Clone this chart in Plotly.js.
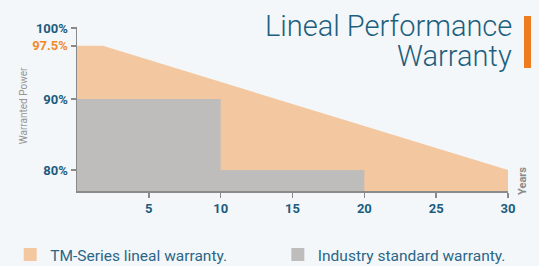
<!DOCTYPE html>
<html>
<head>
<meta charset="utf-8">
<script src="https://cdn.plot.ly/plotly-3.0.1.min.js"></script>
<style>
html,body{margin:0;padding:0;background:#f4f7f9;}
#chart{width:539px;height:266px;}
</style>
</head>
<body>
<div id="chart"></div>
<script>
// Data
const tmYears = [0, 1.8, 30];
const tmPower = [97.5, 97.5, 80];
const industryYears = [0, 10, 20];
const industryPower = [90, 80, 80];
const xTicks = [5, 10, 15, 20, 25, 30];
const yTicks = [80, 90, 97.5, 100];
const yTickLabels = ['80%', '90%', '<span style="color:#f08a2a">97.5%</span>', '100%'];
const seriesNames = ['TM-Series lineal warranty.', 'Industry standard warranty.'];
const titleLines = ['Lineal Performance', 'Warranty'];

const orange = '#f3c79f';
const gray = '#bebdbc';
const blue = '#1b5c7e';
const axisGray = '#8a8a8a';

const traces = [
  {x: tmYears, y: tmPower, mode: 'lines', fill: 'tozeroy', fillcolor: orange,
   line: {width: 0, color: orange}, showlegend: false, hoverinfo: 'skip'},
  {x: industryYears, y: industryPower, mode: 'lines', fill: 'tozeroy', fillcolor: gray,
   line: {width: 0, color: gray, shape: 'hv'}, showlegend: false, hoverinfo: 'skip'},
  {x: [null], y: [null], mode: 'markers', name: seriesNames[0],
   marker: {symbol: 'square', size: 13, color: orange}, legend: 'legend'},
  {x: [null], y: [null], mode: 'markers', name: seriesNames[1],
   marker: {symbol: 'square', size: 13, color: gray}, legend: 'legend2'}
];

const tickFont = {family: 'Roboto', size: 13, color: blue, weight: 'bold'};
const legendFont = {family: 'Roboto', size: 15.5, color: '#2a6688'};
const titleFont = {family: 'Roboto', size: 29, color: '#1d5f7f', weight: 300};

const layout = {
  width: 539, height: 266,
  margin: {l: 77, r: 31, t: 27, b: 75, autoexpand: false},
  paper_bgcolor: '#f4f7f9', plot_bgcolor: '#f4f7f9',
  xaxis: {range: [0, 30], tickvals: xTicks, ticks: 'outside', ticklen: 5, tickwidth: 1.5,
    tickcolor: axisGray, showline: true, linecolor: axisGray, linewidth: 1.5,
    showgrid: false, zeroline: false, tickfont: tickFont, fixedrange: true},
  yaxis: {range: [77.05, 100.15], tickvals: yTicks, ticktext: yTickLabels, ticks: 'outside',
    ticklen: 5, tickwidth: 1.5, tickcolor: axisGray, showline: true, linecolor: axisGray,
    linewidth: 1.5, showgrid: false, zeroline: false, tickfont: tickFont, fixedrange: true},
  legend: {x: -0.155, y: -0.39, xanchor: 'left', yanchor: 'middle', orientation: 'h',
    bgcolor: 'rgba(0,0,0,0)', font: legendFont, itemsizing: 'trace'},
  legend2: {x: 0.466, y: -0.39, xanchor: 'left', yanchor: 'middle', orientation: 'h',
    bgcolor: 'rgba(0,0,0,0)', font: legendFont, itemsizing: 'trace'},
  annotations: [
    {text: titleLines[0], xref: 'paper', yref: 'paper', x: 1.0116, y: 1.006,
     xanchor: 'right', yanchor: 'middle', align: 'right', showarrow: false, borderpad: 0,
     font: titleFont},
    {text: titleLines[1], xref: 'paper', yref: 'paper', x: 1.0116, y: 0.823,
     xanchor: 'right', yanchor: 'middle', align: 'right', showarrow: false, borderpad: 0,
     font: titleFont},
    {text: 'Years', xref: 'paper', yref: 'paper', x: 1.0348, y: 0.061, textangle: -90,
     xanchor: 'center', yanchor: 'middle', showarrow: false,
     font: {family: 'Roboto', size: 11, color: axisGray, weight: 'bold'}},
    {text: 'Warranted Power', xref: 'paper', yref: 'paper', x: -0.125, y: 0.518, textangle: -90,
     xanchor: 'center', yanchor: 'middle', showarrow: false,
     font: {family: 'Roboto', size: 10, color: '#959595'}}
  ],
  shapes: [
    {type: 'rect', xref: 'paper', yref: 'paper', x0: 1.0371, x1: 1.0534, y0: 0.75, y1: 1.067,
     fillcolor: '#ee7d1f', line: {width: 0}}
  ]
};

Plotly.newPlot('chart', traces, layout, {displayModeBar: false, staticPlot: true});
</script>
</body>
</html>
